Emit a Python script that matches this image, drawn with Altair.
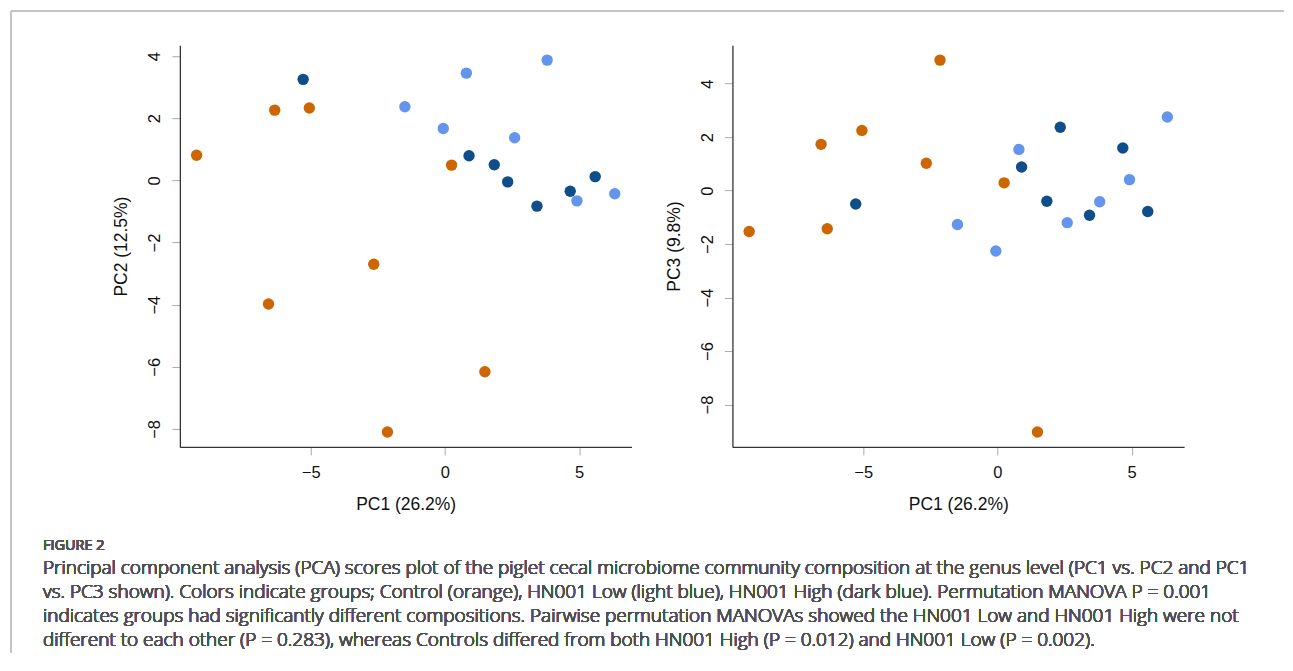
import altair as alt
import pandas as pd

# ---- data ----
groups = ["Control"] * 8 + ["HN001 Low"] * 7 + ["HN001 High"] * 7
pc1 = [-9.25, -6.57, -6.34, -5.05, -2.65, -2.14, 0.25, 1.49,
       -1.49, -0.06, 0.80, 2.60, 3.81, 4.92, 6.33,
       -5.28, 0.90, 1.84, 2.34, 3.43, 4.67, 5.60]
pc2 = [0.81, -3.98, 2.26, 2.33, -2.70, -8.10, 0.49, -6.16,
       2.37, 1.67, 3.45, 1.37, 3.87, -0.66, -0.43,
       3.25, 0.79, 0.50, -0.05, -0.83, -0.35, 0.12]
pc3 = [-1.53, 1.73, -1.43, 2.25, 1.02, 4.88, 0.29, -9.03,
       -1.27, -2.26, 1.54, -1.20, -0.42, 0.41, 2.75,
       -0.50, 0.88, -0.40, 2.37, -0.92, 1.59, -0.78]
group_order = ["Control", "HN001 Low", "HN001 High"]
group_colors = ["#CD6600", "#6495ED", "#104E8B"]

x_ticks = [-5, 0, 5]
y_ticks = [-8, -6, -4, -2, 0, 2, 4]

caption_head = "FIGURE 2"
caption_lines = [
    "Principal component analysis (PCA) scores plot of the piglet cecal microbiome community composition at the genus level (PC1 vs. PC2 and PC1",
    "vs. PC3 shown). Colors indicate groups; Control (orange), HN001 Low (light blue), HN001 High (dark blue). Permutation MANOVA P = 0.001",
    "indicates groups had significantly different compositions. Pairwise permutation MANOVAs showed the HN001 Low and HN001 High were not",
    "different to each other (P = 0.283), whereas Controls differed from both HN001 High (P = 0.012) and HN001 Low (P = 0.002).",
]

df = pd.DataFrame({"group": groups, "PC1": pc1, "PC2": pc2, "PC3": pc3})


def rdomain(vals):
    lo, hi = min(vals), max(vals)
    pad = 0.04 * (hi - lo)
    return [lo - pad, hi + pad]


W, H = 452, 402
FONT = "Liberation Sans"
CAP_FONT = "Open Sans"

color = alt.Color("group:N", scale=alt.Scale(domain=group_order, range=group_colors), legend=None)


def panel(ycol, ytitle):
    xax = alt.Axis(values=x_ticks, title="PC1 (26.2%)", grid=False, domainColor="#333333",
                   domainWidth=1.3, tickColor="#aaaaaa", tickSize=8, labelFontSize=16.5,
                   labelFont=FONT, labelColor="#111111", labelPadding=10,
                   titleFont=FONT, titleFontSize=17.5, titleFontWeight="normal", titleColor="#111111",
                   titleX=W / 2, titleY=58, titleBaseline="middle", titleAlign="center")
    yax = alt.Axis(values=y_ticks, title=ytitle, grid=False, domainColor="#333333",
                   domainWidth=1.3, tickColor="#aaaaaa", tickSize=8, labelFontSize=16.5,
                   labelFont=FONT, labelColor="#111111", labelPadding=9, labelAngle=270,
                   labelAlign="center", labelBaseline="bottom",
                   titleFont=FONT, titleFontSize=17.5, titleFontWeight="normal", titleColor="#111111",
                   titleX=-58, titleY=H / 2, titleBaseline="middle", titleAlign="center", titleAngle=270)
    return alt.Chart(df).mark_circle(size=130, opacity=1).encode(
        x=alt.X("PC1:Q", scale=alt.Scale(domain=rdomain(pc1), nice=False, zero=False), axis=xax),
        y=alt.Y(f"{ycol}:Q", scale=alt.Scale(domain=rdomain(df[ycol].tolist()), nice=False, zero=False), axis=yax),
        color=color,
    ).properties(width=W, height=H)


p1 = panel("PC2", "PC2 (12.5%)")
p2 = panel("PC3", "PC3 (9.8%)")

# frame lines and caption (decorations, pixel-positioned relative to panel 1)
frame_v = alt.Chart(df).mark_rule(color="#c4c4c4", strokeWidth=1.5).encode(
    x=alt.value(-169), y=alt.value(-34), y2=alt.value(608))
frame_h = alt.Chart(df).mark_rule(color="#c4c4c4", strokeWidth=1.5).encode(
    y=alt.value(-34), x=alt.value(-169), x2=alt.value(1105))
head = alt.Chart(df).mark_text(text=caption_head, font=CAP_FONT, fontSize=14.5, fontWeight=400,
                               color="#555555", align="left", baseline="middle").encode(
    x=alt.value(-137), y=alt.value(501))
body_layers = [
    alt.Chart(df).mark_text(text=line, font=CAP_FONT, fontSize=19, fontWeight=300,
                            color="#505050", align="left", baseline="middle").encode(
        x=alt.value(-137), y=alt.value(523 + 24 * i))
    for i, line in enumerate(caption_lines)
]

left = alt.layer(frame_v, frame_h, head, *body_layers, p1)

chart = alt.hconcat(left, p2, spacing=101, bounds="flush").properties(
    padding={"left": 2, "top": 2, "right": 0, "bottom": 0}
).configure_view(stroke=None)

chart.save("out.html", embed_options={"renderer": "svg", "actions": False})
